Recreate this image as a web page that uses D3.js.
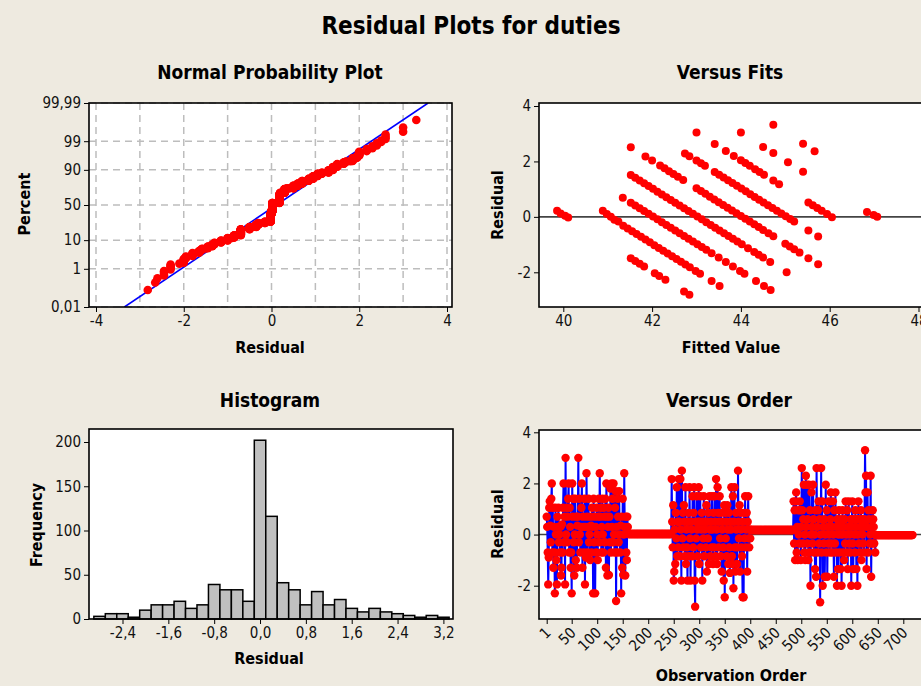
<!DOCTYPE html>
<html>
<head>
<meta charset="utf-8">
<title>Residual Plots for duties</title>
<script src="https://cdn.jsdelivr.net/npm/d3@7"></script>
<style>
  body { margin: 0; background: #eeeae0; }
  svg text { font-family: 'DejaVu Sans Condensed', 'DejaVu Sans', sans-serif; font-stretch: condensed; }
  .tick text { font-size: 15px; fill: #111; }
  .tick line { stroke: #000; }
</style>
</head>
<body>
<svg id="chart" width="921" height="686"></svg>
<script>
// ---- data ----
var probTickPercents = [0.01, 1, 10, 50, 90, 99, 99.99];
var probTickLabels = ['0,01', '1', '10', '50', '90', '99', '99,99'];
var probXTicks = [-4, -2, 0, 2, 4];
var probGridX = [-4, -3, -2, -1, 0, 1, 2, 3, 4];

var histMids = [-2.8, -2.6, -2.4, -2.2, -2.0, -1.8, -1.6, -1.4, -1.2, -1.0, -0.8, -0.6, -0.4, -0.2,
  0.0, 0.2, 0.4, 0.6, 0.8, 1.0, 1.2, 1.4, 1.6, 1.8, 2.0, 2.2, 2.4, 2.6, 2.8, 3.0, 3.2];
var histCounts = [3, 6, 6, 2, 10, 16, 16, 20, 12, 16, 39, 33, 33, 20,
  202, 116, 41, 33, 16, 31, 16, 22, 12, 8, 12, 8, 6, 4, 2, 4, 2];
var histTicks = [-2.4, -1.6, -0.8, 0, 0.8, 1.6, 2.4, 3.2];
var histTickLabels = ['-2,4', '-1,6', '-0,8', '0,0', '0,8', '1,6', '2,4', '3,2'];
var histYTicks = [0, 50, 100, 150, 200];

// [fitted value, residual]
var fitPoints = [
  [39.86,0.22],[39.94,0.12],[40.04,0.04],[40.11,-0.02],
  [40.89,0.22],[40.98,0.10],[41.07,0.00],[41.15,-0.10],[41.24,-0.17],
  [46.84,0.18],[46.99,0.07],[47.07,0.00],
  [41.52,-1.49],[41.62,-1.59],[41.72,-1.69],[41.82,-1.79],[42.06,-2.03],[42.16,-2.13],[42.30,-2.27],[42.72,-2.69],[42.84,-2.81],
  [41.35,-0.32],[41.45,-0.42],[41.55,-0.52],[41.65,-0.62],[41.75,-0.72],[41.85,-0.82],[41.95,-0.92],[42.05,-1.02],[42.15,-1.12],
  [42.25,-1.22],[42.35,-1.32],[42.45,-1.42],[42.55,-1.52],[42.65,-1.62],[42.75,-1.72],[42.85,-1.82],[42.98,-1.95],[43.08,-2.05],
  [43.34,-2.31],[43.52,-2.49],
  [41.34,0.69],[41.52,0.51],[41.62,0.41],[41.72,0.31],[41.82,0.21],[41.92,0.11],[42.02,0.01],[42.12,-0.09],[42.22,-0.19],
  [42.32,-0.29],[42.42,-0.39],[42.52,-0.49],[42.62,-0.59],[42.72,-0.69],[42.82,-0.79],[42.92,-0.89],[43.02,-0.99],[43.12,-1.09],
  [43.22,-1.19],[43.34,-1.31],[43.50,-1.47],[43.66,-1.63],[43.82,-1.79],[43.98,-1.95],[44.08,-2.05],[44.34,-2.31],[44.52,-2.49],
  [44.67,-2.64],
  [41.52,1.51],[41.62,1.41],[41.72,1.31],[41.82,1.21],[41.92,1.11],[42.02,1.01],[42.12,0.91],[42.22,0.81],[42.32,0.71],
  [42.42,0.61],[42.52,0.51],[42.62,0.41],[42.72,0.31],[42.82,0.21],[42.92,0.11],[43.02,0.01],[43.12,-0.09],[43.22,-0.19],
  [43.32,-0.29],[43.42,-0.39],[43.52,-0.49],[43.62,-0.59],[43.72,-0.69],[43.82,-0.79],[43.92,-0.89],[44.02,-0.99],[44.16,-1.13],
  [44.30,-1.27],[44.40,-1.37],[44.50,-1.47],[44.66,-1.63],[45.03,-2.00],
  [41.52,2.51],[41.85,2.18],[42.00,2.03],[42.18,1.85],[42.28,1.75],[42.38,1.65],[42.48,1.55],[42.58,1.45],[42.70,1.33],
  [43.00,1.03],[43.10,0.93],[43.20,0.83],[43.30,0.73],[43.40,0.63],[43.50,0.53],[43.60,0.43],[43.70,0.33],[43.80,0.23],
  [43.90,0.13],[44.00,0.03],[44.10,-0.07],[44.20,-0.17],[44.30,-0.27],[44.40,-0.37],[44.50,-0.47],[44.62,-0.59],[44.73,-0.70],
  [45.00,-0.97],[45.10,-1.07],[45.20,-1.17],[45.32,-1.29],[45.52,-1.49],[45.74,-1.71],
  [42.74,2.29],[42.84,2.19],[43.00,2.03],[43.10,1.93],[43.19,1.84],[43.41,1.62],[43.51,1.52],[43.61,1.42],[43.71,1.32],
  [43.81,1.22],[43.91,1.12],[44.01,1.02],[44.11,0.92],[44.21,0.82],[44.31,0.72],[44.41,0.62],[44.51,0.52],[44.61,0.42],
  [44.71,0.32],[44.81,0.22],[44.91,0.12],[45.01,0.02],[45.11,-0.08],[45.20,-0.17],[45.52,-0.49],[45.74,-0.71],
  [43.00,3.04],[43.41,2.63],[43.66,2.38],[43.84,2.20],[44.00,2.04],[44.10,1.94],[44.20,1.84],[44.32,1.72],[44.42,1.62],
  [44.52,1.52],[44.73,1.31],[44.86,1.18],[45.52,0.52],[45.62,0.42],[45.72,0.32],[45.82,0.22],[45.94,0.10],[46.05,-0.01],
  [44.00,3.04],[44.50,2.52],[44.73,2.30],[45.06,1.97],[45.40,1.63],
  [44.73,3.32],[45.40,2.64],[45.66,2.37]
];
var fitXTicks = [40, 42, 44, 46, 48];
var residTicks = [-2, 0, 2, 4];

// residuals in observation order: three scattered blocks plus constant runs
var orderBlockA = [ // obs 1-160
  0.7, 0.3, -0.7, -1.95, -0.9, 1.05, 1.3, 0.35, -0.3, 1.4, 2.0, -0.7, 1.05, -1.3, 0.3, -0.7, -2.3, 1.05, 0.0, -1.0,
  -1.95, 0.7, 0.3, 1.05, -0.3, 0.0, -0.7, 0.3, -1.6, -1.3, 0.4, -0.7, 1.05, 2.0, -0.3, 0.7, -1.95, 3.0, 0.0, 1.05,
  -0.3, 0.7, 1.4, 2.0, -0.7, 1.05, 0.3, -1.3, -0.7, -2.3, 2.0, 0.7, 1.4, -0.3, -1.6, 0.0, 1.4, -1.0, 0.7, -1.3,
  0.35, 0.7, 3.0, -0.3, 1.4, 0.0, -0.7, 0.3, 1.05, 2.0, -1.3, 0.7, 0.3, -0.7, 1.4, -1.95, 0.3, -0.9, 2.4, 0.7,
  -0.7, 0.3, 1.4, -0.3, 0.0, -1.0, 0.7, 0.35, -0.7, 1.05, 0.3, -2.3, 1.4, -0.3, 0.7, -2.3, 0.3, -0.7, 1.05, 0.0,
  -1.0, 0.7, 1.4, -0.3, 2.4, 0.7, 1.05, -0.7, 0.3, 1.4, 0.0, -0.7, 1.05, 0.7, -0.3, 1.4, -1.3, 2.0, 0.7, -1.6,
  0.3, 1.05, -1.58, 0.7, -0.3, 1.8, -0.7, 2.0, 0.3, 1.4, -0.3, 2.0, 0.0, -0.7, 1.05, 1.7, -2.6, 0.3, -0.7, 1.4,
  0.7, -0.3, 1.7, 0.0, -0.7, 0.35, -2.3, 0.7, -1.3, 1.4, -1.58, 0.0, 2.4, 0.3, -1.6, 0.7, -0.7, -1.0, 0.7, 0.3
];
var orderBlockC = [ // obs 246-400
  2.17, 0.5, -0.5, 1.15, -1.8, -1.45, 0.2, -1.15, 0.85, -0.15, 1.85, -0.85, 0.5, -0.5, 2.17, 0.5, -0.85, 2.17, 0.2, -1.8,
  2.5, -0.15, 0.85, -0.5, 1.15, 0.5, -0.85, 1.85, -1.15, 0.2, -0.5, -1.8, 0.5, 0.85, -0.85, 1.85, -0.15, -1.8, 0.5, 0.2,
  -0.85, 1.5, -0.5, 0.85, 1.85, -1.8, -2.82, 0.5, -0.15, 1.5, 0.2, -0.85, 0.5, 1.85, -1.15, 0.5, 1.5, -0.5, 0.2, 0.85,
  -1.8, 0.5, -0.15, 1.5, -0.85, 0.2, 0.5, -0.5, 1.15, -1.45, 0.5, -0.15, 0.85, -1.15, 1.5, 0.2, -0.85, 0.5, -0.5, 1.5,
  0.2, -1.15, 0.85, -0.5, 1.5, 0.5, -0.85, 2.17, 0.2, -1.15, 1.85, 0.85, -0.5, 0.5, 1.5, -0.15, -0.85, 0.85, -1.45, 0.2,
  0.5, -0.5, -1.8, 1.15, -2.45, 0.85, -0.15, 0.5, -0.85, 1.15, 0.2, -1.15, 0.85, -0.5, -1.5, 0.5, 0.2, 1.85, -0.85, -1.15,
  1.5, -2.1, 0.5, 1.85, -0.5, -1.45, 0.85, 0.2, -1.15, -0.5, 2.5, 0.5, -0.15, 1.15, -1.45, 0.85, 0.2, -0.5, -0.85, -2.45,
  0.5, -2.45, 0.85, -0.15, 1.5, -0.5, 0.2, 0.85, -1.45, 0.5, 1.5, -0.15, -0.5, 0.2, -0.15
];
var orderBlockE = [ // obs 485-645
  1.3, -0.35, 0.95, -1.0, 1.3, 1.65, -0.7, 0.3, -1.0, 0.95, 0.0, -0.35, 1.3, 0.95, -1.0, 0.3, 2.6, 0.95, -0.35, 0.6,
  1.95, -0.7, 0.0, -1.0, 2.3, 0.3, 1.95, -0.35, 0.6, -1.0, 1.95, -0.7, 0.95, -2.0, 0.0, 1.65, 0.3, -0.35, 1.95, 0.6,
  -0.7, 0.0, -1.35, 0.95, -1.65, 2.6, 0.3, -0.7, 0.95, 1.3, -0.35, 0.6, -2.65, 0.0, 2.6, -0.7, 1.3, -2.0, 0.3, -0.35,
  0.6, -1.65, 0.0, 1.95, -0.7, 0.95, -1.65, 0.3, -0.35, 1.3, 0.0, -0.7, 0.6, 1.65, -0.35, 0.3, -0.7, 1.3, 0.0, -1.65,
  0.95, -0.35, 1.65, -0.7, 0.3, -2.0, 0.6, -1.35, 0.0, 0.95, -0.7, 0.3, -1.35, 0.6, -2.0, 0.0, 0.95, -0.7, 0.3, -1.0,
  0.6, -0.35, 1.3, 0.0, -0.7, 0.95, -1.35, 0.3, 1.3, -0.35, 0.0, -0.7, 0.6, -2.0, 0.3, 1.3, -0.35, -1.35, 0.6, 0.0,
  -0.7, 0.95, 0.3, -1.35, 0.6, -2.0, 0.0, 1.3, -0.35, 0.6, -0.7, 0.3, 0.95, -1.0, 0.6, 0.0, -0.35, 0.3, -0.7, 0.6,
  3.3, 1.65, 2.3, -1.35, 0.3, 1.65, -0.7, 0.95, 0.6, -0.35, 0.0, 2.3, -1.65, 0.3, -0.35, 0.95, 0.6, 0.3, -0.35, 0.0, -0.7
];
var orderBlocks = [[1, orderBlockA], [246, orderBlockC], [485, orderBlockE]];
// [first obs, last obs, residual] for the flat stretches
var flatRuns = [[161, 245, 0.02], [401, 484, 0.18], [646, 718, -0.02]];
var orderTicks = [1, 50, 100, 150, 200, 250, 300, 350, 400, 450, 500, 550, 600, 650, 700];

// ---- helpers ----
function normInv(p) {
  var a = [-39.69683028665376, 220.9460984245205, -275.9285104469687, 138.3577518672690, -30.66479806614716, 2.506628277459239];
  var b = [-54.47609879822406, 161.5858589980634, -155.6989798598866, 66.80131188771972, -13.28068155288572];
  var c = [-0.007784894002430293, -0.3223964580411365, -2.400758277161838, -2.549732539343734, 4.374664141464968, 2.938163982698783];
  var d = [0.007784695709041462, 0.3224671290700398, 2.445134137142996, 3.754408661907416];
  var q, r;
  if (p < 0.02425) {
    q = Math.sqrt(-2 * Math.log(p));
    return (((((c[0]*q+c[1])*q+c[2])*q+c[3])*q+c[4])*q+c[5]) / ((((d[0]*q+d[1])*q+d[2])*q+d[3])*q+1);
  }
  if (p > 1 - 0.02425) {
    q = Math.sqrt(-2 * Math.log(1 - p));
    return -(((((c[0]*q+c[1])*q+c[2])*q+c[3])*q+c[4])*q+c[5]) / ((((d[0]*q+d[1])*q+d[2])*q+d[3])*q+1);
  }
  q = p - 0.5; r = q * q;
  return (((((a[0]*r+a[1])*r+a[2])*r+a[3])*r+a[4])*r+a[5])*q / (((((b[0]*r+b[1])*r+b[2])*r+b[3])*r+b[4])*r+1);
}

var residuals = [];
orderBlocks.forEach(function(b) {
  b[1].forEach(function(v, i) { residuals.push({obs: b[0] + i, r: v}); });
});
flatRuns.forEach(function(f) {
  for (var o = f[0]; o <= f[1]; o++) residuals.push({obs: o, r: f[2]});
});
residuals.sort(function(a, b) { return a.obs - b.obs; });

var svg = d3.select('#chart');
svg.append('rect').attr('width', 921).attr('height', 686).attr('fill', '#eeeae0');

function box(p) {
  svg.append('rect').attr('x', p.left).attr('y', p.top)
    .attr('width', p.right - p.left).attr('height', p.bottom - p.top)
    .attr('fill', '#fff');
}
function border(p) {
  svg.append('rect').attr('x', p.left).attr('y', p.top)
    .attr('width', p.right - p.left).attr('height', p.bottom - p.top)
    .attr('fill', 'none').attr('stroke', '#000').attr('stroke-width', 1.6);
}
function clip(id, p) {
  svg.append('clipPath').attr('id', id).append('rect')
    .attr('x', p.left).attr('y', p.top).attr('width', p.right - p.left).attr('height', p.bottom - p.top);
}
function axis(g, ax) {
  g.call(ax);
  g.attr('font-family', null).attr('font-size', null);
  g.select('.domain').remove();
}
function label(x, y, txt, size, rotate) {
  var t = svg.append('text').attr('text-anchor', 'middle')
    .attr('font-weight', 'bold').attr('font-size', size).attr('fill', '#000').text(txt);
  if (rotate) t.attr('transform', 'translate(' + x + ',' + y + ') rotate(-90)');
  else t.attr('x', x).attr('y', y);
}

label(471, 34, 'Residual Plots for duties', 24);

// ---- Normal probability plot ----
var p1 = {left: 89, right: 452, top: 103, bottom: 307};
box(p1); clip('c1', p1);
var x1 = d3.scaleLinear().domain([-4, 4]).range([96, 447]);
var y1 = d3.scaleLinear().domain([normInv(0.0001), normInv(0.9999)]).range([307, 103]);
var probZ = probTickPercents.map(function(p) { return normInv(p / 100); });

var grid = svg.append('g');
grid.selectAll('line.gx').data(probGridX).enter().append('line')
  .attr('x1', function(d) { return x1(d); }).attr('x2', function(d) { return x1(d); })
  .attr('y1', p1.top).attr('y2', p1.bottom);
grid.selectAll('line.gy').data(probZ).enter().append('line')
  .attr('x1', p1.left).attr('x2', p1.right)
  .attr('y1', function(d) { return y1(d); }).attr('y2', function(d) { return y1(d); });
grid.selectAll('line').attr('stroke', '#bdbdbd').attr('stroke-width', 1.5).attr('stroke-dasharray', '7,5');

var sorted = residuals.map(function(d) { return d.r; }).sort(d3.ascending);
var n = sorted.length;
var mu = d3.mean(sorted), sd = d3.deviation(sorted);
var zLo = normInv(0.0001), zHi = normInv(0.9999);
svg.append('line').attr('clip-path', 'url(#c1)')
  .attr('x1', x1(mu + sd * zLo)).attr('y1', y1(zLo))
  .attr('x2', x1(mu + sd * zHi)).attr('y2', y1(zHi))
  .attr('stroke', '#0000ff').attr('stroke-width', 1.6);
svg.append('g').attr('clip-path', 'url(#c1)').selectAll('circle').data(sorted).enter().append('circle')
  .attr('cx', function(d) { return x1(d); })
  .attr('cy', function(d, i) { return y1(normInv((i + 1 - 0.3) / (n + 0.4))); })
  .attr('r', 4.3).attr('fill', '#ff0000');
border(p1);
axis(svg.append('g').attr('transform', 'translate(0,' + p1.bottom + ')'),
  d3.axisBottom(x1).tickValues(probXTicks).tickSize(5).tickPadding(3).tickFormat(function(d) { return d; }));
axis(svg.append('g').attr('transform', 'translate(' + p1.left + ',0)'),
  d3.axisLeft(y1).tickValues(probZ).tickSize(5).tickPadding(3).tickFormat(function(d, i) { return probTickLabels[i]; }));
label(270, 79, 'Normal Probability Plot', 19);
label(270, 353, 'Residual', 16);
label(30, 204, 'Percent', 16, true);

// ---- Versus fits ----
var p2 = {left: 539, right: 945, top: 103, bottom: 307};
box(p2); clip('c2', p2);
var x2 = d3.scaleLinear().domain([40, 48]).range([563.3, 918.5]);
var y2 = d3.scaleLinear().domain([-2, 4]).range([272.3, 106]);
svg.append('line').attr('x1', p2.left).attr('x2', p2.right).attr('y1', y2(0)).attr('y2', y2(0))
  .attr('stroke', '#444').attr('stroke-width', 1.6);
svg.append('g').attr('clip-path', 'url(#c2)').selectAll('circle').data(fitPoints).enter().append('circle')
  .attr('cx', function(d) { return x2(d[0]); }).attr('cy', function(d) { return y2(d[1]); })
  .attr('r', 4).attr('fill', '#ff0000');
border(p2);
axis(svg.append('g').attr('transform', 'translate(0,' + p2.bottom + ')'),
  d3.axisBottom(x2).tickValues(fitXTicks).tickSize(5).tickPadding(3).tickFormat(function(d) { return d; }));
axis(svg.append('g').attr('transform', 'translate(' + p2.left + ',0)'),
  d3.axisLeft(y2).tickValues(residTicks).tickSize(5).tickPadding(3).tickFormat(function(d) { return d; }));
label(730, 79, 'Versus Fits', 19);
label(731, 353, 'Fitted Value', 16);
label(503, 205, 'Residual', 16, true);

// ---- Histogram ----
var p3 = {left: 89, right: 453, top: 429, bottom: 619};
box(p3);
var x3 = d3.scaleLinear().domain([-2.4, 3.2]).range([122.5, 443.4]);
var y3 = d3.scaleLinear().domain([0, 200]).range([619, 442]);
var binW = 0.2;
svg.append('g').selectAll('rect').data(histMids).enter().append('rect')
  .attr('x', function(d) { return x3(d - binW / 2); })
  .attr('width', function(d) { return x3(d + binW / 2) - x3(d - binW / 2); })
  .attr('y', function(d, i) { return y3(histCounts[i]); })
  .attr('height', function(d, i) { return y3(0) - y3(histCounts[i]); })
  .attr('fill', '#c0c0c0').attr('stroke', '#000').attr('stroke-width', 1.5);
border(p3);
axis(svg.append('g').attr('transform', 'translate(0,' + p3.bottom + ')'),
  d3.axisBottom(x3).tickValues(histTicks).tickSize(5).tickPadding(3).tickFormat(function(d, i) { return histTickLabels[i]; }));
axis(svg.append('g').attr('transform', 'translate(' + p3.left + ',0)'),
  d3.axisLeft(y3).tickValues(histYTicks).tickSize(5).tickPadding(3).tickFormat(function(d) { return d; }));
label(270, 407, 'Histogram', 19);
label(269, 664, 'Residual', 16);
label(42, 525, 'Frequency', 16, true);

// ---- Versus order ----
var p4 = {left: 539, right: 945, top: 430, bottom: 619};
box(p4); clip('c4', p4);
var x4 = d3.scaleLinear().domain([1, 700]).range([546.7, 903.3]);
var y4 = d3.scaleLinear().domain([-2, 4]).range([585.7, 432.3]);
svg.append('line').attr('x1', p4.left).attr('x2', p4.right).attr('y1', y4(0)).attr('y2', y4(0))
  .attr('stroke', '#444').attr('stroke-width', 1.6);
var orderLine = d3.line().x(function(d) { return x4(d.obs); }).y(function(d) { return y4(d.r); });
svg.append('path').datum(residuals).attr('clip-path', 'url(#c4)').attr('d', orderLine)
  .attr('fill', 'none').attr('stroke', '#0000ff').attr('stroke-width', 2);
svg.append('g').attr('clip-path', 'url(#c4)').selectAll('circle').data(residuals).enter().append('circle')
  .attr('cx', function(d) { return x4(d.obs); }).attr('cy', function(d) { return y4(d.r); })
  .attr('r', 4.2).attr('fill', '#ff0000');
border(p4);
var gx4 = svg.append('g').attr('transform', 'translate(0,' + p4.bottom + ')');
axis(gx4, d3.axisBottom(x4).tickValues(orderTicks).tickSize(5).tickPadding(3).tickFormat(function(d) { return d; }));
gx4.selectAll('.tick text').attr('text-anchor', 'end').attr('x', 0).attr('y', 0).attr('dy', '0.35em')
  .attr('transform', 'translate(1,11) rotate(-45)');
axis(svg.append('g').attr('transform', 'translate(' + p4.left + ',0)'),
  d3.axisLeft(y4).tickValues(residTicks).tickSize(5).tickPadding(3).tickFormat(function(d) { return d; }));
label(729, 407, 'Versus Order', 19);
label(731, 681, 'Observation Order', 16);
label(503, 524, 'Residual', 16, true);
</script>
</body>
</html>
